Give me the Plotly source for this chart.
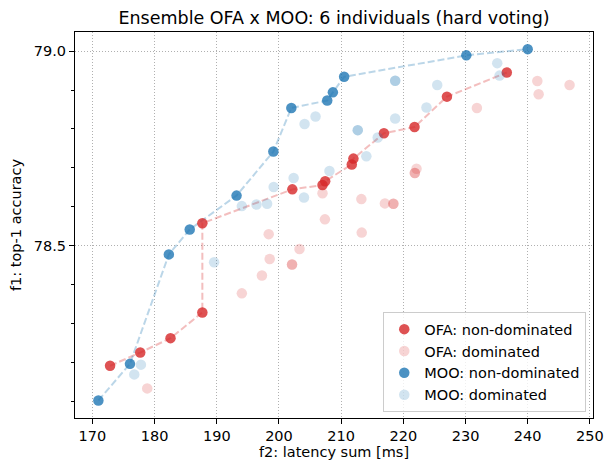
import plotly.graph_objects as go

# ---- data ----
ofa_nd_x = [172.84, 177.69, 182.56, 187.68, 187.68, 202.15, 207.00, 207.43, 211.71, 211.97, 216.88, 221.80, 227.01, 236.64]
ofa_nd_y = [78.192, 78.226, 78.263, 78.329, 78.558, 78.645, 78.656, 78.666, 78.709, 78.724, 78.789, 78.805, 78.883, 78.945]

ofa_dom_x = [178.81, 194.03, 197.26, 198.51, 202.10, 202.10, 203.30, 198.35, 207.00, 207.39, 213.25, 213.31,
             217.04, 218.40, 218.40, 221.85, 221.85, 222.12, 231.83, 241.55, 241.76, 246.73]
ofa_dom_y = [78.134, 78.378, 78.424, 78.466, 78.452, 78.452, 78.492, 78.530, 78.635, 78.568, 78.620, 78.534,
             78.609, 78.608, 78.608, 78.687, 78.687, 78.698, 78.854, 78.923, 78.889, 78.913]

moo_nd_x = [170.96, 176.04, 182.29, 185.65, 193.18, 199.10, 201.99, 207.76, 208.67, 210.48, 230.13, 240.00]
moo_nd_y = [78.103, 78.197, 78.478, 78.542, 78.629, 78.742, 78.854, 78.873, 78.894, 78.934, 78.989, 79.005]

moo_dom_x = [177.80, 176.73, 189.57, 194.03, 196.38, 198.09, 199.15, 202.36, 204.02, 204.12, 205.88, 208.12,
             212.67, 212.67, 214.05, 215.88, 218.69, 218.69, 218.69, 223.72, 225.45, 235.10, 235.47]
moo_dom_y = [78.195, 78.170, 78.458, 78.602, 78.606, 78.608, 78.651, 78.674, 78.624, 78.813, 78.832, 78.692,
             78.797, 78.797, 78.730, 78.778, 78.924, 78.924, 78.827, 78.855, 78.913, 78.969, 78.937]

x_ticks = [170, 180, 190, 200, 210, 220, 230, 240, 250]
y_ticks = [78.5, 79.0]
y_tick_text = ["78.5", "79.0"]

RED = "214,39,40"
BLUE = "31,119,180"
FONT = "DejaVu Sans, sans-serif"
FS = 14.5
MS = 10.5

fig = go.Figure()

# Pareto front lines
fig.add_trace(go.Scatter(x=ofa_nd_x, y=ofa_nd_y, mode="lines", showlegend=False, hoverinfo="skip",
                         line=dict(color=f"rgba({RED},0.3)", width=2, dash="7px,3px")))
fig.add_trace(go.Scatter(x=moo_nd_x, y=moo_nd_y, mode="lines", showlegend=False, hoverinfo="skip",
                         line=dict(color=f"rgba({BLUE},0.3)", width=2, dash="7px,3px")))

fig.add_trace(go.Scatter(x=ofa_nd_x, y=ofa_nd_y, mode="markers", name="OFA: non-dominated",
                         marker=dict(color=f"rgba({RED},0.8)", size=MS, line=dict(width=0))))
fig.add_trace(go.Scatter(x=ofa_dom_x, y=ofa_dom_y, mode="markers", name="OFA: dominated",
                         marker=dict(color=f"rgba({RED},0.2)", size=MS, line=dict(width=0))))
fig.add_trace(go.Scatter(x=moo_nd_x, y=moo_nd_y, mode="markers", name="MOO: non-dominated",
                         marker=dict(color=f"rgba({BLUE},0.8)", size=MS, line=dict(width=0))))
fig.add_trace(go.Scatter(x=moo_dom_x, y=moo_dom_y, mode="markers", name="MOO: dominated",
                         marker=dict(color=f"rgba({BLUE},0.2)", size=MS, line=dict(width=0))))

axis_common = dict(showline=True, linecolor="black", linewidth=1, mirror=True,
                   ticks="outside", ticklen=5, tickcolor="black", tickwidth=1,
                   showgrid=True, gridcolor="#b0b0b0", gridwidth=1, griddash="1px,2px",
                   zeroline=False, automargin=False,
                   tickfont=dict(family=FONT, size=FS, color="black"))

fig.update_layout(
    width=611, height=464,
    margin=dict(l=75, r=18, t=32, b=46, autoexpand=False),
    paper_bgcolor="white", plot_bgcolor="white",
    font=dict(family=FONT, size=FS, color="black"),
    title=dict(text="Ensemble OFA x MOO: 6 individuals (hard voting)", x=0.5467, xanchor="center",
               y=0.962, yanchor="middle", automargin=False,
               font=dict(family=FONT, size=17.5, color="black")),
    xaxis=dict(range=[167.2, 250.5], tickvals=x_ticks,
               title=dict(text="f2: latency sum [ms]", font=dict(family=FONT, size=FS), standoff=3),
               **axis_common),
    yaxis=dict(range=[78.058, 79.049], tickvals=y_ticks, ticktext=y_tick_text,
               minor=dict(ticks="outside", dtick=0.1, tick0=78.0, ticklen=3, tickcolor="black", showgrid=False),
               title=dict(text="f1: top-1 accuracy", font=dict(family=FONT, size=FS), standoff=8),
               **axis_common),
    legend=dict(x=0.987, y=0.015, xanchor="right", yanchor="bottom",
                bgcolor="rgba(255,255,255,0.8)", bordercolor="#cccccc", borderwidth=1,
                font=dict(family=FONT, size=FS), tracegroupgap=0, itemwidth=30),
)

fig.write_html("out.html", config={"displayModeBar": False},
               post_script="document.body.style.margin='0px';document.body.style.overflow='hidden';")
